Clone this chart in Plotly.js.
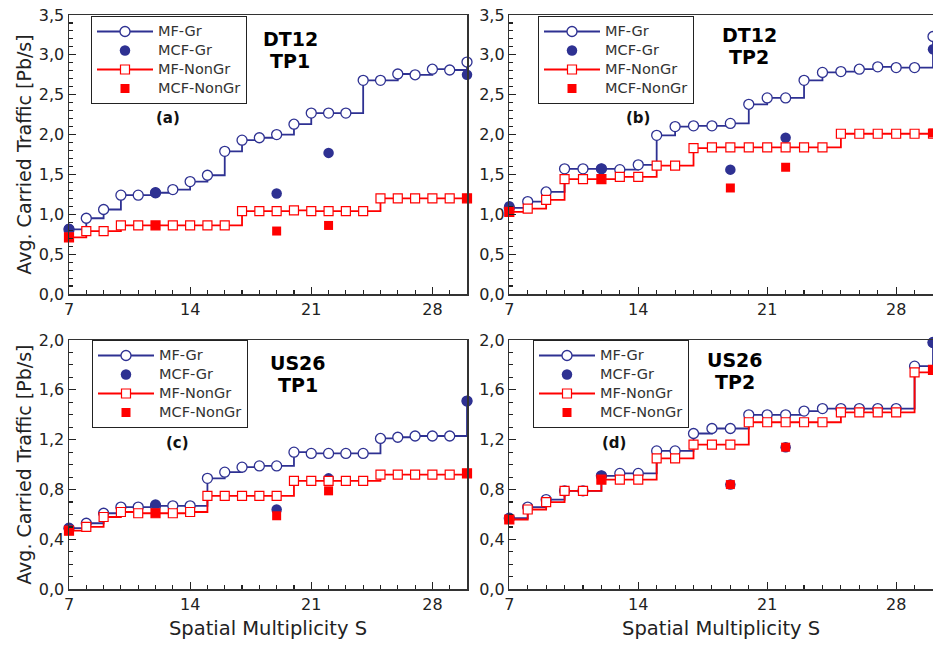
<!DOCTYPE html>
<html><head><meta charset="utf-8">
<script src="https://cdn.plot.ly/plotly-3.0.1.min.js"></script>
<style>html,body{margin:0;padding:0;overflow:hidden;background:#fff}#chart{width:933px;height:646px}</style>
</head><body><div id="chart"></div>
<script>
// Spatial multiplicity values
const S = [7,8,9,10,11,12,13,14,15,16,17,18,19,20,21,22,23,24,25,26,27,28,29,30];
const S_MCF = [7,12,19,22,30];

// (a) DT12 TP1
const mfGrA  = [0.81,0.95,1.06,1.24,1.24,1.27,1.31,1.41,1.49,1.79,1.93,1.96,2.00,2.13,2.27,2.27,2.27,2.68,2.68,2.76,2.75,2.82,2.81,2.91];
const mcfGrA = [0.82,1.27,1.26,1.77,2.75];
const mfNonA = [0.71,0.79,0.79,0.86,0.86,0.86,0.86,0.86,0.86,0.86,1.04,1.04,1.04,1.05,1.04,1.04,1.04,1.04,1.20,1.20,1.20,1.20,1.20,1.20];
const mcfNonA= [0.71,0.86,0.79,0.86,1.20];

// (b) DT12 TP2
const mfGrB  = [1.08,1.16,1.28,1.57,1.57,1.57,1.56,1.62,1.99,2.10,2.11,2.11,2.14,2.38,2.46,2.46,2.68,2.78,2.79,2.82,2.85,2.84,2.84,3.23];
const mcfGrB = [1.10,1.57,1.56,1.96,3.07];
const mfNonB = [1.03,1.07,1.18,1.44,1.44,1.44,1.47,1.47,1.61,1.61,1.83,1.84,1.84,1.84,1.84,1.84,1.84,1.84,2.01,2.01,2.01,2.01,2.01,2.01];
const mcfNonB= [1.03,1.44,1.33,1.59,2.02];

// (c) US26 TP1
const mfGrC  = [0.49,0.53,0.61,0.66,0.66,0.67,0.67,0.67,0.89,0.94,0.98,0.99,0.99,1.10,1.09,1.09,1.09,1.09,1.21,1.22,1.23,1.23,1.23,1.51];
const mcfGrC = [0.49,0.68,0.64,0.89,1.51];
const mfNonC = [0.47,0.50,0.58,0.62,0.61,0.61,0.61,0.62,0.75,0.75,0.75,0.75,0.75,0.87,0.87,0.87,0.87,0.87,0.92,0.92,0.92,0.92,0.92,0.93];
const mcfNonC= [0.47,0.61,0.59,0.79,0.93];

// (d) US26 TP2
const mfGrD  = [0.57,0.66,0.72,0.79,0.79,0.91,0.93,0.93,1.11,1.11,1.25,1.29,1.29,1.40,1.40,1.40,1.43,1.45,1.45,1.45,1.45,1.45,1.79,1.98];
const mcfGrD = [0.57,0.91,0.84,1.14,1.98];
const mfNonD = [0.56,0.64,0.70,0.79,0.79,0.88,0.88,0.88,1.05,1.05,1.16,1.16,1.16,1.34,1.34,1.34,1.34,1.34,1.42,1.42,1.42,1.42,1.74,1.76];
const mcfNonD= [0.56,0.88,0.84,1.14,1.76];

const seriesNames = ['MF-Gr','MCF-Gr','MF-NonGr','MCF-NonGr'];
const panelLabels = ['(a)','(b)','(c)','(d)'];
const panelTitles = [['DT12','TP1'],['DT12','TP2'],['US26','TP1'],['US26','TP2']];

const navy = '#2e3192', red = '#ff0000';
const W = 933, H = 646;
const FONT = 'DejaVu Sans, sans-serif';

function lgName(s) { return '<span style="font-size:14.5px">' + s + '</span>'; }

function panelTraces(i, mfGr, mcfGr, mfNon, mcfNon) {
  const xa = i===1 ? 'x' : 'x'+i, ya = i===1 ? 'y' : 'y'+i, lg = i===1 ? 'legend' : 'legend'+i;
  const common = {xaxis: xa, yaxis: ya, legend: lg, cliponaxis: false};
  return [
    Object.assign({x: S, y: mfGr, name: lgName(seriesNames[0]), mode: 'lines+markers',
      line: {shape: 'hv', color: navy, width: 1.8},
      marker: {symbol: 'circle', size: 10, color: '#fff', line: {color: navy, width: 1.3}}}, common),
    Object.assign({x: S_MCF, y: mcfGr, name: lgName(seriesNames[1]), mode: 'markers',
      marker: {symbol: 'circle', size: 10.5, color: navy}}, common),
    Object.assign({x: S, y: mfNon, name: lgName(seriesNames[2]), mode: 'lines+markers',
      line: {shape: 'hv', color: red, width: 1.8},
      marker: {symbol: 'square', size: 9, color: '#fff', line: {color: red, width: 1.2}}}, common),
    Object.assign({x: S_MCF, y: mcfNon, name: lgName(seriesNames[3]), mode: 'markers',
      marker: {symbol: 'square', size: 9, color: red}}, common)
  ];
}

const data = [].concat(
  panelTraces(1, mfGrA, mcfGrA, mfNonA, mcfNonA),
  panelTraces(2, mfGrB, mcfGrB, mfNonB, mcfNonB),
  panelTraces(3, mfGrC, mcfGrC, mfNonC, mcfNonC),
  panelTraces(4, mfGrD, mcfGrD, mfNonD, mcfNonD)
);

// pixel geometry of plot areas
const colX = [[69, 467], [509.3, 933]];
const rowY = [[15, 294], [340, 589.3]];
function dx(c){ return [colX[c][0]/W, colX[c][1]/W]; }
function dy(r){ return [1 - rowY[r][1]/H, 1 - rowY[r][0]/H]; }

function xAxis(c, r, showTitle) {
  return {
    domain: dx(c), anchor: (r===0 && c===0) ? 'y' : 'y' + (r*2 + c + 1),
    range: [7, 30], tickmode: 'linear', tick0: 7, dtick: 7,
    ticks: 'inside', ticklen: 7, tickwidth: 1.2, tickcolor: '#222',
    minor: {dtick: 1, ticks: 'inside', ticklen: 4, tickwidth: 1.1, tickcolor: '#222'},
    showline: true, linecolor: '#333', linewidth: 1.5, mirror: true,
    showgrid: false, zeroline: false,
    tickfont: {family: FONT, size: 16, color: '#222'},
    title: showTitle ? {text: 'Spatial Multiplicity S', font: {family: FONT, size: 19.5, color: '#222'}, standoff: 8} : {text: ''}
  };
}
function yAxis(c, r, showTitle) {
  const top = r === 0;
  return {
    domain: dy(r), anchor: (r===0 && c===0) ? 'x' : 'x' + (r*2 + c + 1),
    range: top ? [0, 3.5] : [0, 2.0], tickmode: 'linear', tick0: 0, dtick: top ? 0.5 : 0.4,
    tickformat: '.1f',
    ticks: 'inside', ticklen: 7, tickwidth: 1.2, tickcolor: '#222',
    minor: {dtick: 0.1, ticks: 'inside', ticklen: 4, tickwidth: 1.1, tickcolor: '#222'},
    showline: true, linecolor: '#333', linewidth: 1.5, mirror: true,
    showgrid: false, zeroline: false,
    tickfont: {family: FONT, size: 16, color: '#222'},
    title: showTitle ? {text: 'Avg. Carried Traffic [Pb/s]', font: {family: FONT, size: 19, color: '#222'}, standoff: 2} : {text: ''}
  };
}

function legendAt(px, py) {
  return {x: px/W, y: 1 - py/H, xanchor: 'left', yanchor: 'top',
    bgcolor: '#fff', bordercolor: '#222', borderwidth: 1,
    font: {family: FONT, size: 12, color: '#333'}, itemwidth: 56, tracegroupgap: 0};
}

const ann = [];
const titlePos = [[290, 39, 61], [749, 35, 57], [298, 363, 385], [735, 360, 382]];
const labelPos = [[168, 118], [638, 118], [177, 443], [614, 443]];
function annot(px, py, text, size, color) {
  return {xref: 'paper', yref: 'paper', x: px/W, y: 1 - py/H, xanchor: 'center', yanchor: 'middle',
    text: text, showarrow: false, font: {family: FONT, size: size, color: color, weight: 'bold'}};
}
for (let k = 0; k < 4; k++) {
  ann.push(annot(titlePos[k][0], titlePos[k][1], panelTitles[k][0], 19, '#000'));
  ann.push(annot(titlePos[k][0], titlePos[k][2], panelTitles[k][1], 19, '#000'));
  ann.push(annot(labelPos[k][0], labelPos[k][1], panelLabels[k], 15, '#111'));
}

const layout = {
  width: W, height: H, margin: {l: 0, r: 0, t: 0, b: 0},
  paper_bgcolor: '#fff', plot_bgcolor: '#fff', separators: ',.',
  font: {family: FONT},
  xaxis: xAxis(0, 0, false), yaxis: yAxis(0, 0, true),
  xaxis2: xAxis(1, 0, false), yaxis2: yAxis(1, 0, false),
  xaxis3: xAxis(0, 1, true), yaxis3: yAxis(0, 1, true),
  xaxis4: xAxis(1, 1, true), yaxis4: yAxis(1, 1, false),
  legend: legendAt(91, 16), legend2: legendAt(538, 16),
  legend3: legendAt(92, 340), legend4: legendAt(533, 340),
  annotations: ann, showlegend: true
};

Plotly.newPlot('chart', data, layout, {staticPlot: true, displayModeBar: false});
</script></body></html>
